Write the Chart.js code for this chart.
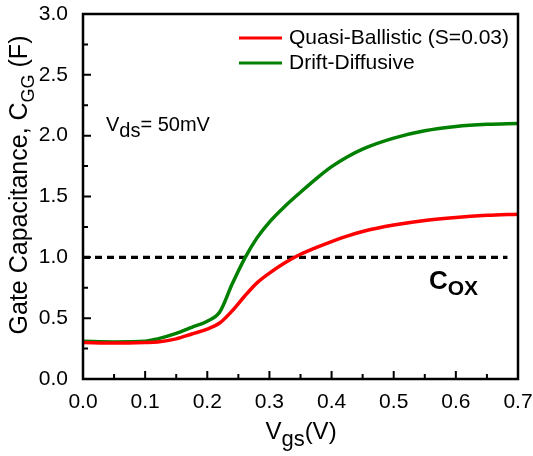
<!DOCTYPE html>
<html>
<head>
<meta charset="utf-8">
<script src="https://cdn.jsdelivr.net/npm/chart.js@4.4.1/dist/chart.umd.min.js"></script>
<style>
  html, body { margin: 0; padding: 0; background: #fff; }
  #wrap { width: 533px; height: 456px; }
</style>
</head>
<body>
<div id="wrap"><canvas id="cgg"></canvas></div>
<script>
// gate voltage samples (V)
const vgs = [0, 0.05, 0.1, 0.12, 0.15, 0.175, 0.2, 0.22, 0.24, 0.26, 0.28, 0.3, 0.325, 0.35, 0.375, 0.4, 0.425, 0.45, 0.5, 0.55, 0.6, 0.65, 0.7];
// C_GG (F)
const quasiBallistic = [0.30, 0.295, 0.30, 0.305, 0.33, 0.37, 0.41, 0.46, 0.56, 0.68, 0.79, 0.87, 0.955, 1.025, 1.08, 1.13, 1.175, 1.212, 1.265, 1.303, 1.328, 1.345, 1.355];
const driftDiffusive = [0.31, 0.305, 0.31, 0.33, 0.375, 0.425, 0.475, 0.55, 0.78, 0.99, 1.16, 1.29, 1.42, 1.535, 1.645, 1.745, 1.825, 1.89, 1.98, 2.04, 2.075, 2.093, 2.10];
// oxide capacitance reference line
const coxX = [0, 0.683];
const coxY = [1.0, 1.0];

const xTicks = [0, 0.1, 0.2, 0.3, 0.4, 0.5, 0.6, 0.7];
const yTicks = [0, 0.5, 1.0, 1.5, 2.0, 2.5, 3.0];

const FONT = '"Liberation Sans", Arial, sans-serif';

function pts(xs, ys) {
    return xs.map((x, i) => ({ x: x, y: ys[i] }));
}

// text pieces: [text, fontSize, bold, dy]
function runWidth(ctx, parts) {
    let w = 0;
    parts.forEach(p => {
        ctx.font = `${p[2] ? 'bold ' : ''}${p[1]}px ${FONT}`;
        w += ctx.measureText(p[0]).width;
    });
    return w;
}
function drawRun(ctx, parts, x, y) {
    parts.forEach(p => {
        ctx.font = `${p[2] ? 'bold ' : ''}${p[1]}px ${FONT}`;
        ctx.fillText(p[0], x, y + p[3]);
        x += ctx.measureText(p[0]).width;
    });
}

const decor = {
    id: 'decor',
    afterDatasetsDraw(chart) {
        const { ctx, chartArea: a, scales: { x, y } } = chart;
        ctx.save();
        ctx.strokeStyle = '#000';
        ctx.fillStyle = '#000';
        ctx.lineWidth = 2.5;
        ctx.strokeRect(a.left, a.top, a.right - a.left, a.bottom - a.top);

        // inward ticks on bottom and left
        ctx.lineWidth = 2;
        ctx.beginPath();
        xTicks.forEach((v, i) => {
            const px = x.getPixelForValue(v);
            ctx.moveTo(px, a.bottom); ctx.lineTo(px, a.bottom - 8);
            if (i < xTicks.length - 1) {
                const mx = x.getPixelForValue((v + xTicks[i + 1]) / 2);
                ctx.moveTo(mx, a.bottom); ctx.lineTo(mx, a.bottom - 5);
            }
        });
        yTicks.forEach((v, i) => {
            const py = y.getPixelForValue(v);
            ctx.moveTo(a.left, py); ctx.lineTo(a.left + 8, py);
            if (i < yTicks.length - 1) {
                const my = y.getPixelForValue((v + yTicks[i + 1]) / 2);
                ctx.moveTo(a.left, my); ctx.lineTo(a.left + 5, my);
            }
        });
        ctx.stroke();

        // legend
        ctx.textBaseline = 'middle';
        ctx.textAlign = 'left';
        [0, 1].forEach(i => {
            const ds = chart.data.datasets[i];
            const ly = 38 + i * 25;
            ctx.strokeStyle = ds.borderColor;
            ctx.lineWidth = 3;
            ctx.beginPath();
            ctx.moveTo(239, ly); ctx.lineTo(282, ly);
            ctx.stroke();
            ctx.font = `21px ${FONT}`;
            ctx.fillText(ds.label, 289, ly);
        });

        // annotations
        ctx.textBaseline = 'alphabetic';
        drawRun(ctx, [['V', 20, false, 0], ['ds', 20, false, 6], ['= 50mV', 20, false, 0]], 106, 131);
        drawRun(ctx, [['C', 26, true, 0], ['OX', 21, true, 6]], 429, 289);

        // x axis title
        const xt = [['V', 24, false, 0], ['gs', 22, false, 7], ['(V)', 24, false, 0]];
        const xw = runWidth(ctx, xt);
        drawRun(ctx, xt, 301 - xw / 2, 439);

        // y axis title
        const yt = [['Gate Capacitance, C', 25, false, 0], ['GG', 18, false, 7], [' (F)', 25, false, 0]];
        const yw = runWidth(ctx, yt);
        ctx.translate(27, 185);
        ctx.rotate(-Math.PI / 2);
        drawRun(ctx, yt, -yw / 2, 0);
        ctx.restore();
    }
};

new Chart(document.getElementById('cgg').getContext('2d'), {
    type: 'line',
    data: {
        datasets: [{
            label: 'Quasi-Ballistic (S=0.03)',
            data: pts(vgs, quasiBallistic),
            borderColor: '#ff0000',
            borderWidth: 3.5,
            pointRadius: 0,
            cubicInterpolationMode: 'monotone'
        }, {
            label: 'Drift-Diffusive',
            data: pts(vgs, driftDiffusive),
            borderColor: '#008000',
            borderWidth: 3.5,
            pointRadius: 0,
            cubicInterpolationMode: 'monotone'
        }, {
            label: 'Cox',
            data: pts(coxX, coxY),
            borderColor: '#000',
            borderWidth: 3.3,
            borderDash: [7, 5],
            pointRadius: 0
        }]
    },
    options: {
        responsive: true,
        maintainAspectRatio: false,
        animation: false,
        layout: { padding: { top: 14, right: 15, left: 0, bottom: 0 } },
        plugins: {
            legend: { display: false },
            tooltip: { enabled: false }
        },
        scales: {
            x: {
                type: 'linear',
                min: 0,
                max: 0.7,
                afterFit: s => { s.height = 77; s.paddingLeft = 0; s.paddingRight = 0; },
                afterBuildTicks: s => { s.ticks = xTicks.map(v => ({ value: v })); },
                grid: { display: false },
                border: { display: false },
                ticks: {
                    color: '#000',
                    font: { family: FONT, size: 21 },
                    padding: 3,
                    maxRotation: 0,
                    callback: v => v.toFixed(1)
                }
            },
            y: {
                type: 'linear',
                min: 0,
                max: 3,
                afterFit: s => { s.width = 83; s.paddingTop = 0; s.paddingBottom = 0; },
                afterBuildTicks: s => { s.ticks = yTicks.map(v => ({ value: v })); },
                grid: { display: false },
                border: { display: false },
                ticks: {
                    color: '#000',
                    font: { family: FONT, size: 21 },
                    padding: 7,
                    callback: v => v.toFixed(1)
                }
            }
        }
    },
    plugins: [decor]
});
</script>
</body>
</html>
